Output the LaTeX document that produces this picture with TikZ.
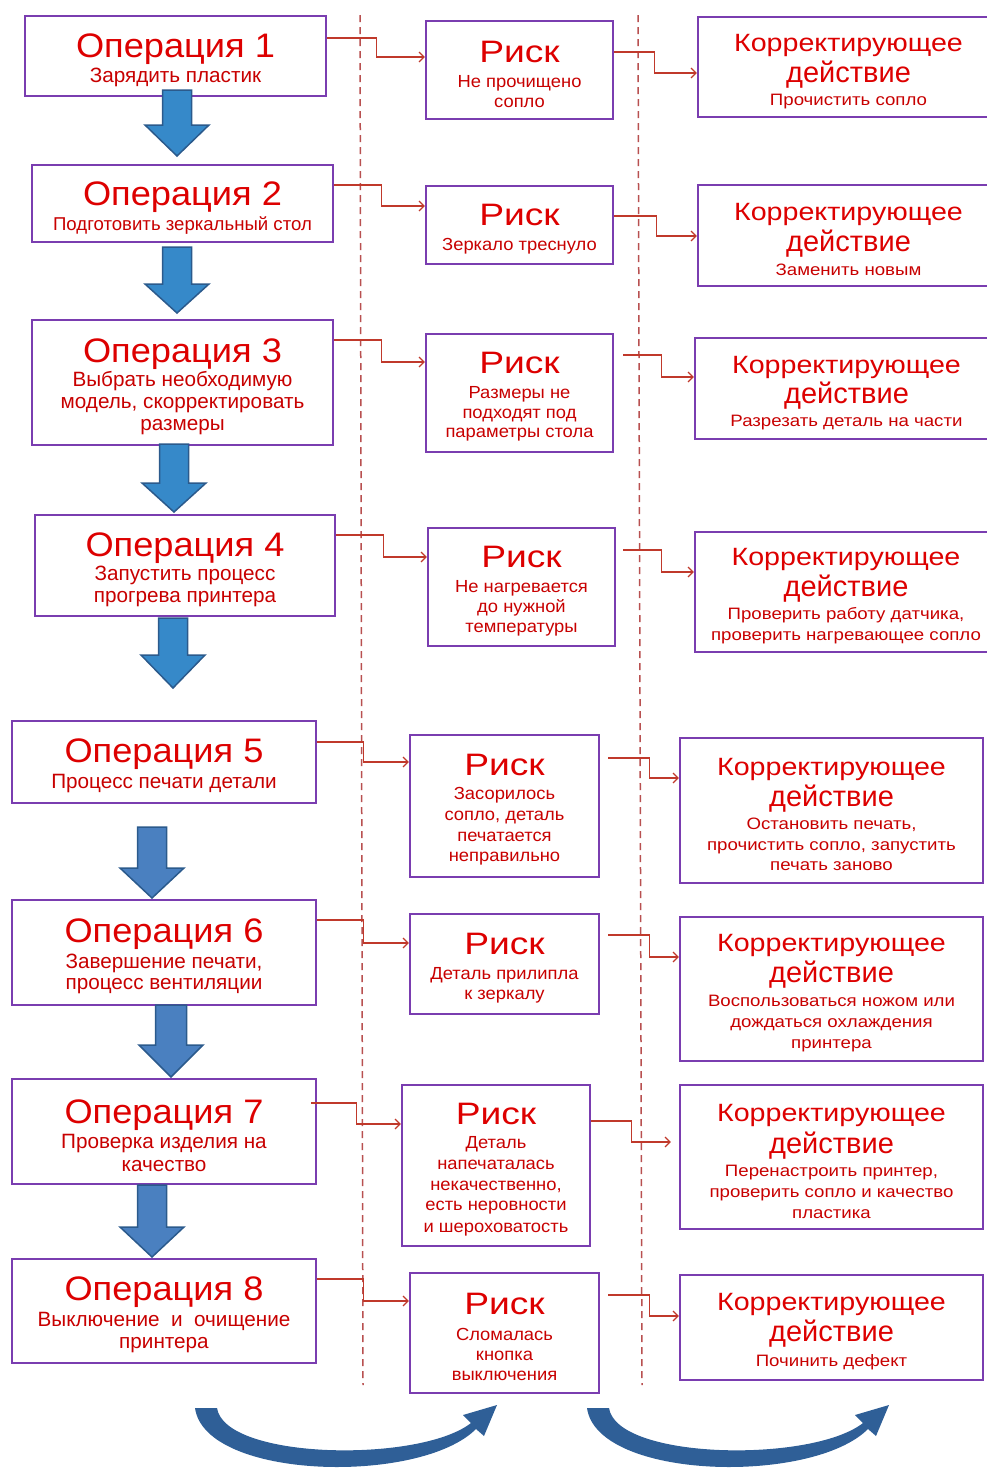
\documentclass[tikz,border=0pt]{standalone}
\usepackage{fontspec}
\setmainfont{Liberation Sans}
\newfontfamily\fO[FakeStretch=1.065]{Liberation Sans}
\newfontfamily\fR[FakeStretch=1.2]{Liberation Sans}
\newfontfamily\fK[FakeStretch=1.145]{Liberation Sans}
\newfontfamily\fRs[FakeStretch=1.05]{Liberation Sans}
\newfontfamily\fCs[FakeStretch=1.13]{Liberation Sans}
\usetikzlibrary{arrows.meta}
\definecolor{boxc}{HTML}{7A3DB0}
\definecolor{txtc}{HTML}{DD0000}
\definecolor{subc}{HTML}{C80000}
\definecolor{linec}{HTML}{C0392B}
\definecolor{dashc}{HTML}{B85050}
\definecolor{blueA}{HTML}{3689C9}
\definecolor{blueB}{HTML}{4A80C0}
\definecolor{blueE}{HTML}{2B5A8C}
\definecolor{curvc}{HTML}{2F5F97}
\newcommand\lskO{\fontsize{20.7}{0}\selectfont\lineskiplimit=-1000pt\relax}
\newcommand\lskOsmall{\fontsize{18.6}{0}\selectfont\lineskiplimit=-1000pt\relax}
\newcommand\lskR{\fRs\fontsize{17.5}{0}\selectfont\lineskiplimit=-1000pt\relax}
\newcommand\lskC{\fCs\fontsize{16.5}{0}\selectfont\lineskiplimit=-1000pt\relax}
\newcommand\TitleO[1]{{\fO\fontsize{34}{0}\selectfont\color{txtc}\rule{0pt}{32pt}#1}}
\newcommand\TitleR[1]{{\fR\fontsize{31}{0}\selectfont\color{txtc}\rule{0pt}{29.5pt}#1}}
\newcommand\TitleK[1]{{\fK\fontsize{25}{0}\selectfont\color{txtc}\rule{0pt}{26pt}#1}}
\newcommand\TitleD[1]{{\rmfamily\fontsize{29}{0}\selectfont\color{txtc}#1}}
\newcommand\BArrow[7]{\filldraw[fill=#7, draw=blueE, line width=1.5pt, line join=miter]
  (#1-#5,#2) -- (#1+#5,#2) -- (#1+#5,#3) -- (#1+#6,#3) -- (#1,#4) -- (#1-#6,#3) -- (#1-#5,#3) -- cycle;}
\tikzset{
  opbox/.style={draw=boxc, line width=2.2pt, fill=white, inner sep=0pt, align=center, text=subc, font=\lskO},
  riskbox/.style={opbox, font=\lskR},
  corrbox/.style={opbox, font=\lskC},
  conn/.style={draw=linec, line width=1.2pt, -{Straight Barb[length=5pt,width=10pt]}},
  divider/.style={draw=dashc, line width=1.5pt, dash pattern=on 7pt off 5pt},
}
\begin{document}
\begin{tikzpicture}[x=1pt,y=-1pt]
\useasboundingbox (0,0) rectangle (987,1468);
% dividers
\draw[divider] (360,15) -- (363,1385);
\draw[divider] (638,15) -- (642,1385);
% operations
\node[opbox, minimum width=301pt, minimum height=80pt] (op1) at (175.5,56) {\TitleO{Операция 1}\\[24.5pt]Зарядить пластик};
\node[opbox, font=\lskOsmall, minimum width=301pt, minimum height=77pt] (op2) at (182.5,203.5) {\TitleO{Операция 2}\\[25pt]Подготовить зеркальный стол};
\node[opbox, minimum width=301pt, minimum height=125pt] (op3) at (182.5,382.5) {\TitleO{Операция 3}\\[24pt]Выбрать необходимую\\[22pt]модель, скорректировать\\[22pt]размеры};
\node[opbox, minimum width=300pt, minimum height=101pt] (op4) at (185,565.5) {\TitleO{Операция 4}\\[24pt]Запустить процесс\\[22pt]прогрева принтера};
\node[opbox, minimum width=304pt, minimum height=82pt] (op5) at (164,762) {\TitleO{Операция 5}\\[26pt]Процесс печати детали};
\node[opbox, minimum width=304pt, minimum height=105pt] (op6) at (164,952.5) {\TitleO{Операция 6}\\[26pt]Завершение печати,\\[21pt]процесс вентиляции};
\node[opbox, minimum width=304pt, minimum height=105pt] (op7) at (164,1131.5) {\TitleO{Операция 7}\\[25pt]Проверка изделия на\\[23pt]качество};
\node[opbox, minimum width=304pt, minimum height=104pt] (op8) at (164,1311) {\TitleO{Операция 8}\\[26pt]Выключение\ \ и\ \ очищение\\[22pt]принтера};
% risks
\node[riskbox, minimum width=187pt, minimum height=98pt] (r1) at (519.5,70) {\TitleR{Риск}\\[25pt]Не прочищено\\[20pt]сопло};
\node[riskbox, minimum width=187pt, minimum height=78pt] (r2) at (519.5,225) {\TitleR{Риск}\\[25pt]Зеркало треснуло};
\node[riskbox, minimum width=187pt, minimum height=118pt] (r3) at (519.5,393) {\TitleR{Риск}\\[25pt]Размеры не\\[19.5pt]подходят под\\[19.5pt]параметры стола};
\node[riskbox, minimum width=187pt, minimum height=118pt] (r4) at (521.5,587) {\TitleR{Риск}\\[25pt]Не нагревается\\[20pt]до нужной\\[20pt]температуры};
\node[riskbox, minimum width=189pt, minimum height=142pt] (r5) at (504.5,806) {\TitleR{Риск}\\[24pt]Засорилось\\[21pt]сопло, деталь\\[21pt]печатается\\[20pt]неправильно};
\node[riskbox, minimum width=189pt, minimum height=100pt] (r6) at (504.5,964) {\TitleR{Риск}\\[25pt]Деталь прилипла\\[20pt]к зеркалу};
\node[riskbox, minimum width=188pt, minimum height=161pt] (r7) at (496,1165.5) {\TitleR{Риск}\\[24pt]Деталь\\[21pt]напечаталась\\[21pt]некачественно,\\[20.5pt]есть неровности\\[21.5pt]и шероховатость};
\node[riskbox, minimum width=189pt, minimum height=120pt] (r8) at (504.5,1333) {\TitleR{Риск}\\[26pt]Сломалась\\[20pt]кнопка\\[20pt]выключения};
% corrective actions (the top four run past the right edge of the picture)
\node[corrbox, minimum width=301pt, minimum height=100pt] (c1) at (848.5,67) {\TitleK{Корректирующее}\\[31pt]\TitleD{действие}\\[23pt]Прочистить сопло};
\node[corrbox, minimum width=301pt, minimum height=101pt] (c2) at (848.5,235.5) {\TitleK{Корректирующее}\\[31pt]\TitleD{действие}\\[24pt]Заменить новым};
\node[corrbox, minimum width=303pt, minimum height=101pt] (c3) at (846.5,388.5) {\TitleK{Корректирующее}\\[30pt]\TitleD{действие}\\[23pt]Разрезать деталь на части};
\node[corrbox, minimum width=302pt, minimum height=120pt] (c4) at (846,592) {\TitleK{Корректирующее}\\[31pt]\TitleD{действие}\\[23pt]Проверить работу датчика,\\[21pt]проверить нагревающее сопло};
\node[corrbox, minimum width=303pt, minimum height=145pt] (c5) at (831.5,810.5) {\TitleK{Корректирующее}\\[31pt]\TitleD{действие}\\[23pt]Остановить печать,\\[21pt]прочистить сопло, запустить\\[20pt]печать заново};
\node[corrbox, minimum width=303pt, minimum height=144pt] (c6) at (831.5,989) {\TitleK{Корректирующее}\\[31pt]\TitleD{действие}\\[24pt]Воспользоваться ножом или\\[21pt]дождаться охлаждения\\[21pt]принтера};
\node[corrbox, minimum width=303pt, minimum height=144pt] (c7) at (831.5,1157) {\TitleK{Корректирующее}\\[32pt]\TitleD{действие}\\[23pt]Перенастроить принтер,\\[21pt]проверить сопло и качество\\[21pt]пластика};
\node[corrbox, minimum width=303pt, minimum height=105pt] (c8) at (831.5,1327.5) {\TitleK{Корректирующее}\\[31pt]\TitleD{действие}\\[25pt]Починить дефект};
% block arrows between operations
\BArrow{177}{90}{125}{156}{14.5}{32}{blueA}
\BArrow{177}{247}{284}{313}{14.5}{32}{blueA}
\BArrow{174}{444}{483}{512}{14.5}{32}{blueA}
\BArrow{173}{618}{655}{688}{14.5}{32}{blueA}
\BArrow{152}{827}{868}{898}{14.5}{32}{blueB}
\BArrow{171}{1005}{1045}{1077}{15.5}{32}{blueB}
\BArrow{152}{1185}{1227}{1257}{14.5}{32}{blueB}
% connectors operation -> risk
\draw[conn] ([yshift=18pt]op1.east) -- ++(49,0) |- ([yshift=13pt]r1.west);
\draw[conn] ([yshift=18.5pt]op2.east) -- ++(47,0) |- ([yshift=19pt]r2.west);
\draw[conn] ([yshift=42.5pt]op3.east) -- ++(47,0) |- ([yshift=31pt]r3.west);
\draw[conn] ([yshift=30.5pt]op4.east) -- ++(47,0) |- ([yshift=30pt]r4.west);
\draw[conn] ([yshift=20pt]op5.east) -- ++(46,0) |- ([yshift=44pt]r5.west);
\draw[conn] ([yshift=32.5pt]op6.east) -- ++(46,0) |- ([yshift=21pt]r6.west);
\draw[conn] ([xshift=-6pt,yshift=28.5pt]op7.east) -- ++(45,0) |- ([yshift=41.5pt]r7.west);
\draw[conn] ([yshift=32pt]op8.east) -- ++(46,0) |- ([yshift=32pt]r8.west);
% connectors risk -> corrective action
\draw[conn] ([yshift=18pt]r1.east) -- ++(40,0) |- ([yshift=-6pt]c1.west);
\draw[conn] ([yshift=9pt]r2.east) -- ++(42,0) |- ([yshift=-0.5pt]c2.west);
\draw[conn] ([xshift=9pt,yshift=38pt]r3.east) -- ++(38,0) |- ([yshift=11.5pt]c3.west);
\draw[conn] ([xshift=7pt,yshift=37pt]r4.east) -- ++(38,0) |- ([yshift=20pt]c4.west);
\draw[conn] ([xshift=8pt,yshift=48pt]r5.east) -- ++(41,0) |- ([yshift=32.5pt]c5.west);
\draw[conn] ([xshift=8pt,yshift=29pt]r6.east) -- ++(41,0) |- ([yshift=32pt]c6.west);
\draw[conn] ([yshift=44.5pt]r7.east) -- ++(40,0) |- ([xshift=-8pt,yshift=15pt]c7.west);
\draw[conn] ([xshift=8pt,yshift=38pt]r8.east) -- ++(41,0) |- ([yshift=11.5pt]c8.west);
% curved arrows at the bottom
\foreach \dx in {0,392}{
  \fill[curvc, xshift=\dx pt] (195,1408) .. controls (205,1480) and (420,1485) .. (476,1429)
     -- (484,1436) -- (497,1405) -- (463,1415) -- (471,1423)
     .. controls (420,1463) and (225,1460) .. (217,1408) -- cycle;
}
\end{tikzpicture}
\end{document}
